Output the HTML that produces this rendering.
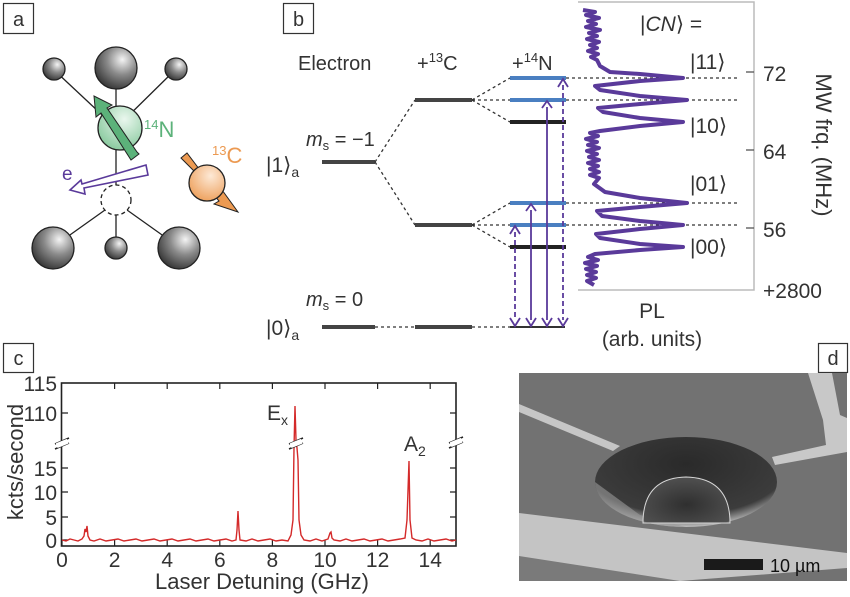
<!DOCTYPE html>
<html><head><meta charset="utf-8"><style>
html,body{margin:0;padding:0;background:#fff}
svg{display:block}
text{font-family:"Liberation Sans",sans-serif;fill:#333}
</style></head><body>
<svg width="850" height="597" viewBox="0 0 850 597" xmlns="http://www.w3.org/2000/svg">
<defs>
<radialGradient id="ball" cx="0.65" cy="0.3" r="0.8"><stop offset="0" stop-color="#f4f4f4"/><stop offset="0.45" stop-color="#8a8a8a"/><stop offset="1" stop-color="#2a2a2a"/></radialGradient>
<radialGradient id="gb" cx="0.6" cy="0.3" r="0.8"><stop offset="0" stop-color="#eaf7ee"/><stop offset="1" stop-color="#7fc596"/></radialGradient>
<radialGradient id="ob" cx="0.6" cy="0.3" r="0.8"><stop offset="0" stop-color="#fde9d6"/><stop offset="1" stop-color="#ec9a52"/></radialGradient>
<radialGradient id="crater" cx="0.5" cy="0.3" r="0.7"><stop offset="0" stop-color="#2a2a2a"/><stop offset="0.8" stop-color="#3c3c3c"/><stop offset="1" stop-color="#bdbdbd"/></radialGradient>
<radialGradient id="dome" cx="0.5" cy="0.6" r="0.7"><stop offset="0" stop-color="#2f2f2f"/><stop offset="0.85" stop-color="#505050"/><stop offset="1" stop-color="#e0e0e0"/></radialGradient>
</defs>

<!-- panel a -->
<rect x="3.5" y="3.5" width="30" height="30" fill="none" stroke="#333" stroke-width="1.2"/>
<text x="18.5" y="26" font-size="20" text-anchor="middle">a</text>
<g stroke="#222" stroke-width="1.3">
<line x1="53" y1="69" x2="116" y2="128"/><line x1="176" y1="69" x2="116" y2="128"/>
<line x1="116" y1="65" x2="116" y2="186"/>
<line x1="105" y1="210" x2="53" y2="247"/><line x1="127" y1="210" x2="179" y2="247"/><line x1="116" y1="214" x2="116" y2="247"/>
</g>
<g stroke="#222" stroke-width="1.3" fill="url(#ball)">
<circle cx="116" cy="68" r="21"/><circle cx="54" cy="69" r="11"/><circle cx="176" cy="69" r="11"/>
<circle cx="53" cy="248" r="21"/><circle cx="116" cy="248" r="11"/><circle cx="179" cy="248" r="21"/>
</g>
<circle cx="116" cy="200" r="15" fill="#fff" stroke="#222" stroke-width="1.3" stroke-dasharray="4,3"/>
<circle cx="120" cy="128" r="22" fill="url(#gb)" stroke="#222" stroke-width="1.3"/>
<polygon points="139,154 131,160 101,113 96,117 94,96 112,105 107,108 137,152" fill="#5cb27a" stroke="#222" stroke-width="1"/>
<polygon points="181,158 187,153 212,186 217,183 238,212 214,204 219,201 193,170" fill="#ec9a52" stroke="#222" stroke-width="1"/>
<circle cx="207" cy="183" r="18" fill="url(#ob)" stroke="#222" stroke-width="1.3"/>
<polygon points="146,165 148,175 84,188 85,194 70,190 81,180 82,184" fill="#fff" stroke="#5a3a9a" stroke-width="1.6"/>
<text x="62" y="180" font-size="19" style="fill:#5a3a9a">e</text>
<text x="144" y="137" font-size="22" style="fill:#5cb27a"><tspan font-size="13" dy="-8">14</tspan><tspan dy="8">N</tspan></text>
<text x="212" y="163" font-size="22" style="fill:#ec9a52"><tspan font-size="13" dy="-8">13</tspan><tspan dy="8">C</tspan></text>

<!-- panel b -->
<rect x="283.5" y="3.5" width="30" height="30" fill="none" stroke="#333" stroke-width="1.2"/>
<text x="298.5" y="26" font-size="20" text-anchor="middle">b</text>
<text x="298" y="70" font-size="20">Electron</text>
<text x="417" y="70" font-size="20">+<tspan font-size="13" dy="-8">13</tspan><tspan dy="8">C</tspan></text>
<text x="512" y="70" font-size="20">+<tspan font-size="13" dy="-8">14</tspan><tspan dy="8">N</tspan></text>
<text x="306" y="146" font-size="20"><tspan font-style="italic">m</tspan><tspan font-size="13" dy="4">s</tspan><tspan dy="-4"> = −1</tspan></text>
<text x="266" y="172" font-size="21">|1⟩<tspan font-size="14" dy="5">a</tspan></text>
<text x="306" y="306" font-size="20"><tspan font-style="italic">m</tspan><tspan font-size="13" dy="4">s</tspan><tspan dy="-4"> = 0</tspan></text>
<text x="266" y="335" font-size="21">|0⟩<tspan font-size="14" dy="5">a</tspan></text>
<g stroke="#444" stroke-width="4">
<line x1="322" y1="162" x2="375" y2="162"/><line x1="415" y1="100" x2="472" y2="100"/><line x1="415" y1="225" x2="472" y2="225"/>
<line x1="322" y1="327" x2="375" y2="327"/><line x1="415" y1="327" x2="472" y2="327"/>
</g>
<line x1="510" y1="327" x2="565" y2="327" stroke="#333" stroke-width="2"/>
<g stroke="#4a7fc1" stroke-width="4"><line x1="510" y1="78" x2="566" y2="78"/><line x1="510" y1="100" x2="566" y2="100"/><line x1="510" y1="203" x2="566" y2="203"/><line x1="510" y1="225" x2="566" y2="225"/></g>
<g stroke="#222" stroke-width="4"><line x1="510" y1="122" x2="566" y2="122"/><line x1="510" y1="247" x2="566" y2="247"/></g>
<g stroke="#333" stroke-width="1.3" stroke-dasharray="3,3" fill="none">
<path d="M375,162 L415,100 M375,162 L415,225 M472,100 L510,78 M472,100 L510,122 M472,225 L510,203 M472,225 L510,247 M375,327 L415,327 M472,327 L510,327 M472,100 L510,100 M472,225 L510,225"/>
<path d="M566,78 L738,78 M566,100 L738,100 M566,203 L738,203 M566,225 L738,225"/>
</g>
<g stroke="#5a3a9a" stroke-width="1.8" fill="none">
<line x1="515" y1="232" x2="515" y2="320" stroke-dasharray="5,3"/>
<line x1="531" y1="210" x2="531" y2="320"/>
<line x1="547" y1="107" x2="547" y2="320"/>
<line x1="563" y1="85" x2="563" y2="320" stroke-dasharray="5,3"/>
<path d="M510,234 L515,226 L520,234 M526,211 L531,204 L536,211 M542,108 L547,101 L552,108 M558,87 L563,79 L568,87"/>
<path d="M510,318 L515,326 L520,318 M526,318 L531,326 L536,318 M542,318 L547,326 L552,318 M558,318 L563,326 L568,318"/>
</g>
<polyline fill="none" stroke="#bbb" stroke-width="1.5" points="578,2 754,2 754,290 578,290"/>
<g stroke="#555" stroke-width="1.3"><line x1="746" y1="72" x2="754" y2="72"/><line x1="746" y1="150" x2="754" y2="150"/><line x1="746" y1="228" x2="754" y2="228"/></g>
<polyline fill="none" stroke="#5a3a9a" stroke-width="4" stroke-linejoin="round" points="583,10 595,12 586,15 599,18 588,21 596,24 586,27 600,30 589,33 597,36 587,39 599,42 590,45 597,48 588,51 598,54 591,57 597,60 600,66 610,72 640,74 683,78 640,81 595,86 600,90 640,96 687,100 640,104 598,108 603,112 640,118 683,122 640,126 600,131 590,133 598,136 586,139 597,142 588,145 599,148 587,151 597,154 589,157 599,160 588,163 598,166 590,169 599,172 590,175 599,178 594,184 605,192 640,198 687,203 640,207 597,211 602,216 640,221 683,225 640,229 596,234 600,238 640,244 683,247 640,250 595,254 588,257 598,260 585,263 597,266 586,269 596,272 587,275 596,278 587,281 594,285"/>
<text x="640" y="31" font-size="21"><tspan>|</tspan><tspan font-style="italic">CN</tspan><tspan>⟩ =</tspan></text>
<text x="690" y="69" font-size="21">|11⟩</text>
<text x="690" y="133" font-size="21">|10⟩</text>
<text x="690" y="191" font-size="21">|01⟩</text>
<text x="690" y="254" font-size="21">|00⟩</text>
<text x="763" y="81" font-size="21">72</text>
<text x="763" y="159" font-size="21">64</text>
<text x="763" y="237" font-size="21">56</text>
<text x="763" y="298" font-size="21">+2800</text>
<text transform="translate(816,145) rotate(90)" font-size="22" text-anchor="middle">MW frq. (MHz)</text>
<text x="652" y="318" font-size="21" text-anchor="middle">PL</text>
<text x="652" y="346" font-size="21" text-anchor="middle">(arb. units)</text>

<!-- panel c -->
<rect x="3.5" y="343.5" width="30" height="29" fill="none" stroke="#333" stroke-width="1.2"/>
<text x="18.5" y="365" font-size="20" text-anchor="middle">c</text>
<rect x="61.5" y="383" width="394.5" height="163" fill="none" stroke="#222" stroke-width="1.6"/>
<g stroke="#222" stroke-width="1.2">
<path d="M62,413 h6 M62,468 h6 M62,492 h6 M62,517 h6 M62,540 h6 M456,413 h-6 M456,468 h-6 M456,492 h-6 M456,517 h-6 M456,540 h-6"/>
<path d="M62,546 v-6 M114.6,546 v-6 M167.2,546 v-6 M219.8,546 v-6 M272.4,546 v-6 M325,546 v-6 M377.6,546 v-6 M430.2,546 v-6 M114.6,383 v6 M167.2,383 v6 M219.8,383 v6 M272.4,383 v6 M325,383 v6 M377.6,383 v6 M430.2,383 v6"/>
</g>
<polyline fill="none" stroke="#d42a2a" stroke-width="1.4" points="62,540 66,541 70,539 74,540 78,541 82,539 84,536 85,529 86,532 87,526 88,536 90,540 94,541 100,539 106,541 112,540 118,539 124,541 130,540 136,539 142,541 148,540 154,539 160,541 166,540 172,539 178,541 184,540 190,539 196,541 202,540 208,539 214,541 220,540 226,539 232,541 236,540 237,530 238,511 239,530 240,540 246,541 252,539 258,541 264,540 270,539 276,541 282,540 288,541 291,535 293,520 294,448 295,406 296,440 297,448 298,460 299,520 301,535 304,540 310,541 316,539 322,541 328,539 330,533 331,532 332,538 334,540 340,541 346,539 352,541 358,540 364,539 370,541 376,540 382,539 388,541 394,540 400,539 405,538 407,520 409,461 410,520 412,538 416,540 422,541 428,539 434,541 440,540 446,539 452,541 456,540"/>
<g stroke="#222" stroke-width="1.5"><path d="M55,444 L69,438 M55,449 L69,443 M289,444 L303,438 M289,449 L303,443 M449,443 L463,437 M449,448 L463,442"/></g>
<rect x="56" y="441" width="12" height="5" fill="#fff" transform="rotate(-22 62 443)"/>
<rect x="290" y="441" width="12" height="5" fill="#fff" transform="rotate(-22 296 443)"/>
<rect x="450" y="440" width="12" height="5" fill="#fff" transform="rotate(-22 456 442)"/>
<g font-size="21" text-anchor="end"><text x="57" y="391">115</text><text x="57" y="421">110</text><text x="57" y="476">15</text><text x="57" y="500">10</text><text x="57" y="525">5</text><text x="57" y="548">0</text></g>
<g font-size="21" text-anchor="middle"><text x="62" y="567">0</text><text x="114.6" y="567">2</text><text x="167.2" y="567">4</text><text x="219.8" y="567">6</text><text x="272.4" y="567">8</text><text x="325" y="567">10</text><text x="377.6" y="567">12</text><text x="430.2" y="567">14</text></g>
<text x="262" y="589" font-size="22" text-anchor="middle">Laser Detuning  (GHz)</text>
<text transform="translate(23,462) rotate(-90)" font-size="22" text-anchor="middle">kcts/second</text>
<text x="267" y="420" font-size="21">E<tspan font-size="14" dy="5">x</tspan></text>
<text x="404" y="451" font-size="21">A<tspan font-size="14" dy="5">2</tspan></text>

<!-- panel d -->
<rect x="818.5" y="343.5" width="29" height="29" fill="none" stroke="#333" stroke-width="1.2"/>
<text x="833" y="365" font-size="20" text-anchor="middle">d</text>
<rect x="519" y="373" width="328" height="208" fill="#727272"/>
<polygon points="519,404 519,412 613,451 620,446" fill="#c6c6c6"/>
<polygon points="808,373 832,373 840,415 847,418 847,452 775,465 772,457 826,445 823,420" fill="#c8c8c8"/>
<polygon points="519,513 847,553 847,568 680,581 519,581" fill="#c4c4c4"/>
<polygon points="519,556 519,581 680,581" fill="#7a7a7a"/>
<ellipse cx="686" cy="482" rx="91" ry="45" fill="url(#crater)"/>
<path d="M595,482 A91,45 0 0 0 686,527 L640,515 Z" fill="#9a9a9a" opacity="0.6"/>
<path d="M643,523 Q643,478 686,477 Q730,478 730,523 Z" fill="url(#dome)" stroke="#d8d8d8" stroke-width="1"/>
<rect x="704" y="559" width="59" height="11" fill="#1a1a1a"/>
<text x="770" y="572" font-size="18" style="fill:#111">10 µm</text>
</svg>
</body></html>
